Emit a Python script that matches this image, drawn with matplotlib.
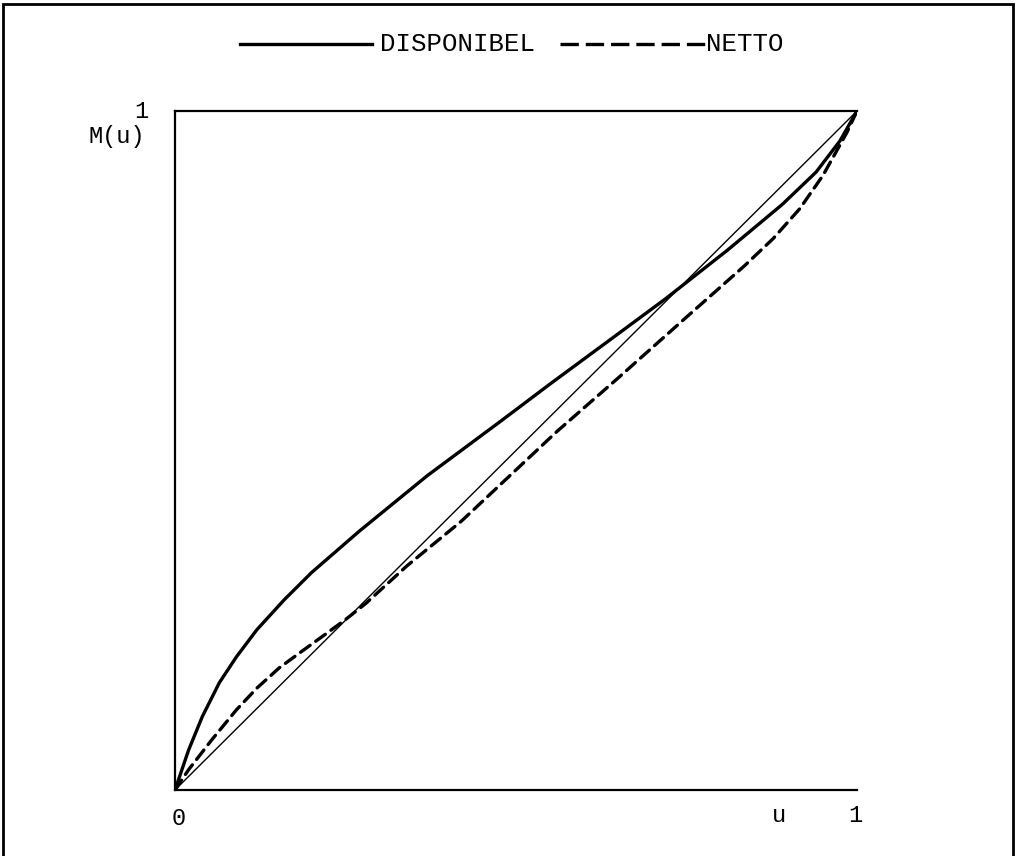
import matplotlib
matplotlib.use("Agg")
import matplotlib.pyplot as plt
from matplotlib.lines import Line2D
from matplotlib.patches import Rectangle

# Lorenz-type curves M(u) for disposable and net income
u_disp = [0.0, 0.02, 0.04, 0.065, 0.09, 0.12, 0.16, 0.2, 0.27, 0.37, 0.48,
          0.55, 0.65, 0.72, 0.81, 0.89, 0.94, 0.975, 1.0]
m_disp = [0.0, 0.059, 0.108, 0.158, 0.196, 0.236, 0.28, 0.32, 0.381, 0.463,
          0.545, 0.598, 0.672, 0.724, 0.795, 0.862, 0.91, 0.956, 1.0]

u_netto = [0.0, 0.02, 0.054, 0.09, 0.12, 0.153, 0.187, 0.22, 0.25, 0.28,
           0.34, 0.42, 0.49, 0.56, 0.65, 0.745, 0.835, 0.877, 0.916, 0.95,
           0.985, 1.0]
m_netto = [0.0, 0.03, 0.074, 0.118, 0.15, 0.18, 0.205, 0.229, 0.251, 0.275,
           0.33, 0.396, 0.462, 0.528, 0.607, 0.692, 0.772, 0.812, 0.856, 0.905,
           0.968, 1.0]

equality = [0.0, 1.0]

FONT = "Liberation Mono"
plt.rcParams["lines.scale_dashes"] = False

W, H = 1016, 856
fig = plt.figure(figsize=(W / 100, H / 100), dpi=100)

# page border
fig.add_artist(Rectangle((3 / W, -0.02), (W - 6) / W, 1.02 - 4 / H,
                         transform=fig.transFigure, fill=False,
                         edgecolor="black", linewidth=2))

ax = fig.add_axes([175 / W, 1 - 790 / H, 682 / W, 679 / H])
ax.set_xlim(0, 1)
ax.set_ylim(0, 1)
ax.spines["right"].set_visible(False)
for s in ("left", "top", "bottom"):
    ax.spines[s].set_linewidth(1.6)
ax.set_xticks([])
ax.set_yticks([])

ax.plot(equality, equality, color="black", linewidth=1.0)
ax.plot(u_disp, m_disp, color="black", linewidth=2.4,
        solid_capstyle="round", solid_joinstyle="round")
ax.plot(u_netto, m_netto, color="black", linewidth=2.4,
        linestyle=(0, (8.5, 5.0)), dash_capstyle="round",
        dash_joinstyle="round")

txt = dict(family=FONT, fontsize=17, color="black")
ax.text(-0.05, 1.0, "1", ha="center", va="center", transform=ax.transAxes, **txt)
ax.text(-0.085, 0.962, "M(u)", ha="center", va="center", transform=ax.transAxes, **txt)
ax.text(0.006, -0.042, "0", ha="center", va="center", transform=ax.transAxes, **txt)
ax.text(0.998, -0.038, "1", ha="center", va="center", transform=ax.transAxes, **txt)
ax.text(0.885, -0.038, "u", ha="center", va="center", transform=ax.transAxes, **txt)

# legend strip above the plot
leg = dict(family=FONT, fontsize=18.5, color="black")
ly = 1 - 44 / H
fig.add_artist(Line2D([240 / W, 372 / W], [ly, ly], color="black",
                      linewidth=2.4, transform=fig.transFigure))
fig.text(380 / W, ly, "DISPONIBEL", ha="left", va="center", **leg)
fig.add_artist(Line2D([560 / W, 705 / W], [ly, ly], color="black",
                      linewidth=2.4, linestyle=(0, (13.2, 5.0)),
                      transform=fig.transFigure))
fig.text(706 / W, ly, "NETTO", ha="left", va="center", **leg)

fig.savefig("out.png", dpi=100)
